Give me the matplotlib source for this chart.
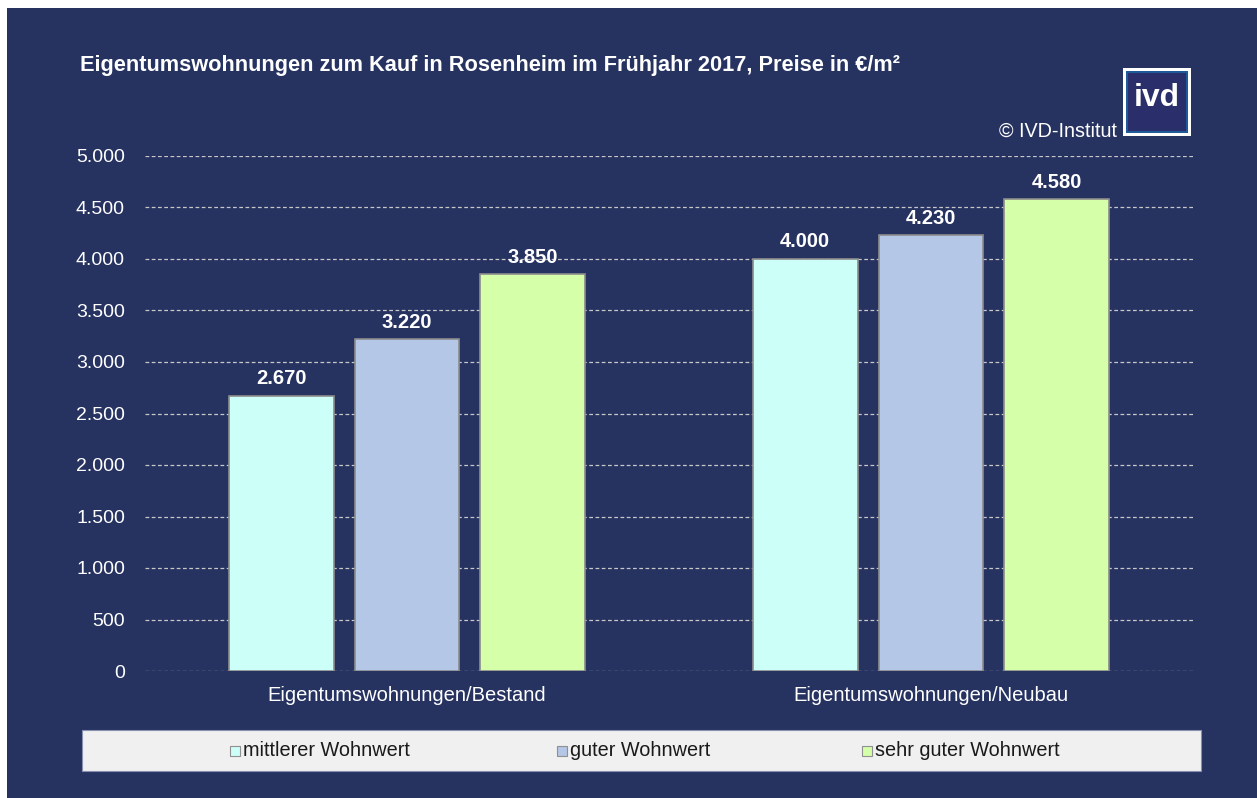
import matplotlib
matplotlib.use("Agg")
import matplotlib.pyplot as plt
from matplotlib.patches import Rectangle
import numpy as np

categories = ["Eigentumswohnungen/Bestand", "Eigentumswohnungen/Neubau"]
series = ["mittlerer Wohnwert", "guter Wohnwert", "sehr guter Wohnwert"]
mittlerer = [2670, 4000]
guter = [3220, 4230]
sehr_guter = [3850, 4580]
yticks = [0, 500, 1000, 1500, 2000, 2500, 3000, 3500, 4000, 4500, 5000]

colors = ["#CCFFF7", "#B4C7E7", "#D5FFA8"]
bg = "#263361"
W, H = 1257, 798

plt.rcParams['font.family'] = ['Liberation Sans', 'DejaVu Sans']
fig = plt.figure(figsize=(W/100, H/100), dpi=100)
fig.patch.set_facecolor("white")
fig.add_artist(Rectangle((7/W, 0), 1 - 7/W, 1 - 8/H, transform=fig.transFigure,
                         facecolor=bg, edgecolor="none", zorder=0))

ax = fig.add_axes([145/W, 1 - 671/H, (1193-145)/W, (671-156)/H])
ax.set_facecolor(bg)
ax.patch.set_alpha(0)
x = np.arange(len(categories))
bw = 0.2
step = 0.24
for i, (vals, c) in enumerate(zip([mittlerer, guter, sehr_guter], colors)):
    bars = ax.bar(x + (i - 1) * step, vals, width=bw, color=c, edgecolor="#8C8C8C",
                  linewidth=1.2, zorder=3, label=series[i])
    for b, v in zip(bars, vals):
        ax.text(b.get_x() + b.get_width()/2, v + 75, f"{v:,}".replace(",", "."),
                ha="center", va="bottom", color="white", fontsize=14.5, fontweight="bold")

ax.set_xlim(-0.5, 1.5)
ax.set_ylim(0, 5000)
ax.set_yticks(yticks)
ax.set_yticklabels([f"{t:,}".replace(",", ".") for t in yticks], color="white", fontsize=14)
ax.set_xticks(x)
ax.set_xticklabels(categories, color="white", fontsize=14.5)
ax.tick_params(axis="y", length=0, pad=14.4)
ax.tick_params(axis="x", length=0, pad=11)
ax.yaxis.grid(True, color="#C8C8C8", linestyle=(0, (3, 2)), linewidth=0.9, zorder=0)
for s in ax.spines.values():
    s.set_visible(False)

fig.text(80/W, 1 - 65/H, "Eigentumswohnungen zum Kauf in Rosenheim im Frühjahr 2017, Preise in €/m²",
         color="white", fontsize=15.7, fontweight="bold", va="center", ha="left")
fig.text(1117/W, 1 - 131/H, "© IVD-Institut", color="white", fontsize=14.2, ha="right", va="center")

# logo
lx0, ly0, lx1, ly1 = 1123, 68, 1191, 136
fig.add_artist(Rectangle((lx0/W, 1 - ly1/H), (lx1-lx0)/W, (ly1-ly0)/H, transform=fig.transFigure,
                         facecolor="white", edgecolor="none", zorder=5))
fig.add_artist(Rectangle(((lx0+3)/W, 1 - (ly1-3)/H), (lx1-lx0-6)/W, (ly1-ly0-6)/H, transform=fig.transFigure,
                         facecolor="#1E5A9A", edgecolor="none", zorder=6))
fig.add_artist(Rectangle(((lx0+5)/W, 1 - (ly1-5)/H), (lx1-lx0-10)/W, (ly1-ly0-10)/H, transform=fig.transFigure,
                         facecolor="#2A2F6B", edgecolor="none", zorder=7))
fig.text((lx0+lx1)/2/W, 1 - (ly0+ly1)/2/H + 0.005, "ivd", color="white", fontsize=23,
         fontweight="bold", ha="center", va="center", zorder=8)

# legend box
fig.add_artist(Rectangle((82/W, 1 - 771/H), (1201-82)/W, (771-730)/H, transform=fig.transFigure,
                         facecolor="#F0F0F0", edgecolor="#8890B0", linewidth=0.8, zorder=5))
leg_x = [230, 557, 862]
for lxp, name, c in zip(leg_x, series, colors):
    fig.add_artist(Rectangle((lxp/W, 1 - 756/H), 10/W, 10/H, transform=fig.transFigure,
                             facecolor=c, edgecolor="#909090", linewidth=0.8, zorder=6))
    fig.text((lxp+13)/W, 1 - 751/H, name, color="#1A1A1A", fontsize=14.3, ha="left", va="center", zorder=6)

fig.savefig("out.png", dpi=100, facecolor=fig.get_facecolor())
